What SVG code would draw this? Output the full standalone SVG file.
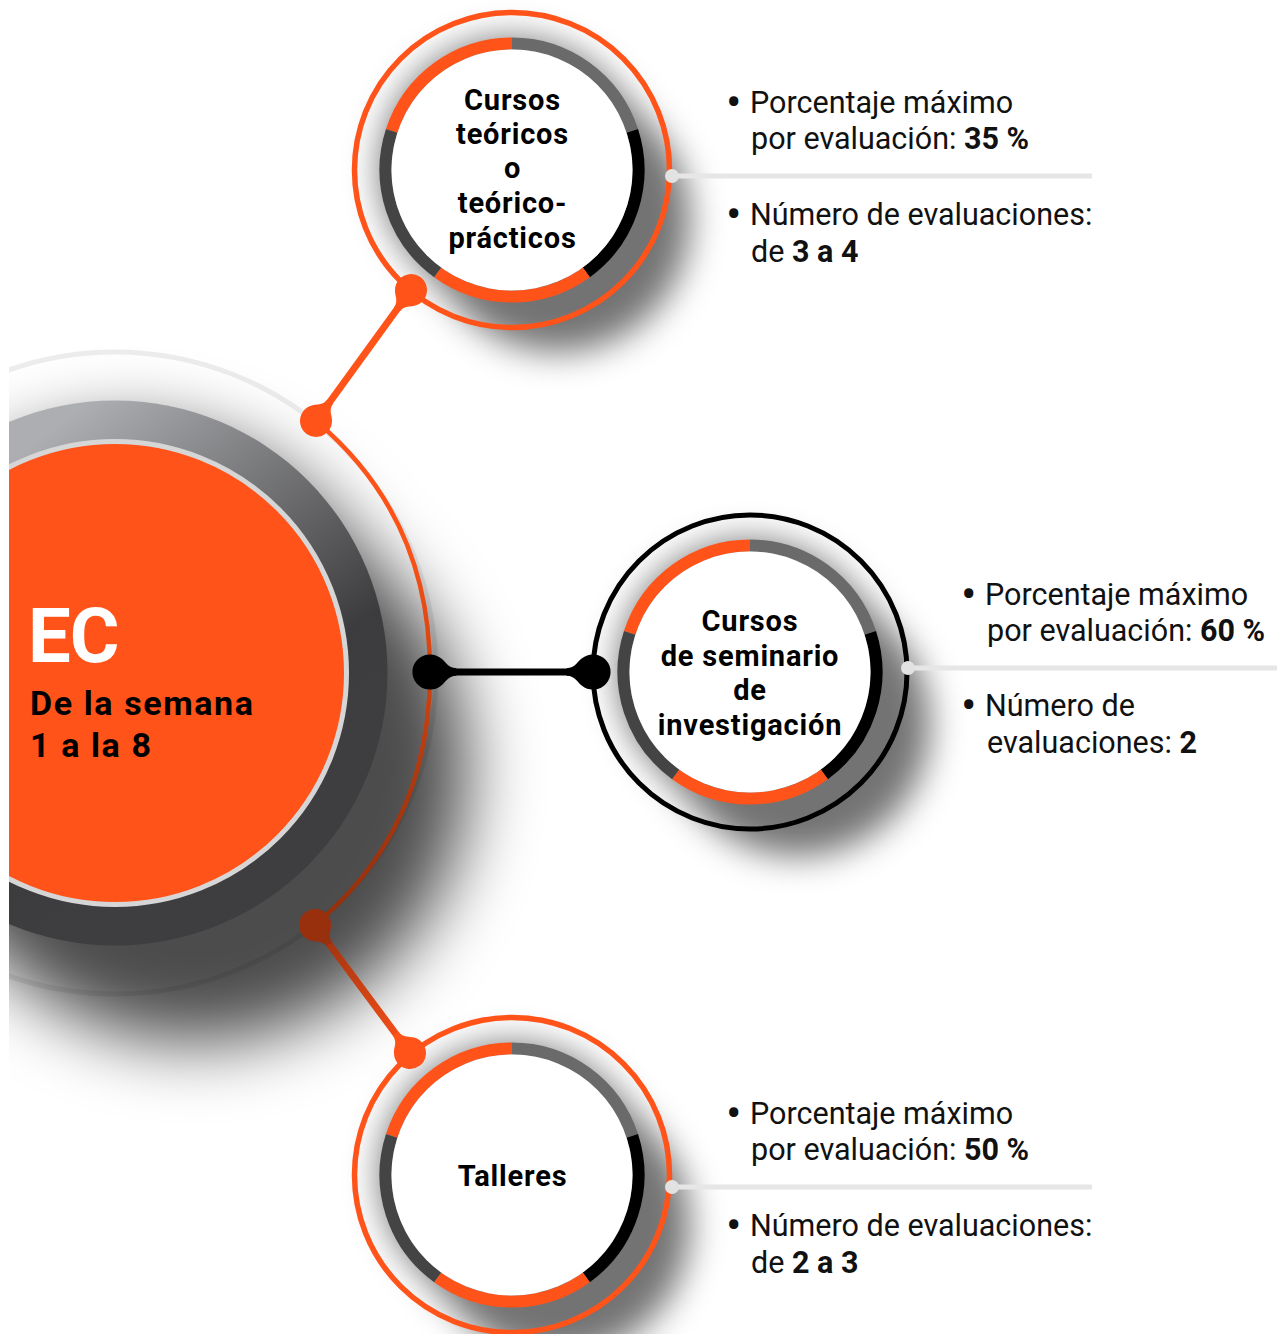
<svg xmlns="http://www.w3.org/2000/svg" width="1287" height="1334" viewBox="0 0 1287 1334">
<defs>
<style>
.nt{font-family:Roboto,"Liberation Sans",sans-serif;font-weight:700;font-size:29px;letter-spacing:0.8px;text-anchor:middle;fill:#000;}
.info{font-family:Roboto,"Liberation Sans",sans-serif;font-size:30.5px;fill:#111;}
.bl{font-size:46px;}
.b{font-weight:700;}
.big{font-family:Roboto,"Liberation Sans",sans-serif;font-weight:700;}
.sep{stroke:#e6e6e6;stroke-width:5;}
.sepdot{fill:#e2e2e2;}
.seg{fill:none;stroke-width:12;}
.shadow{stroke:#000;stroke-linecap:round;fill:none;}
</style>
<filter id="blurS" filterUnits="userSpaceOnUse" x="0" y="0" width="1287" height="1334"><feGaussianBlur stdDeviation="17"/></filter>
<filter id="blurL" filterUnits="userSpaceOnUse" x="0" y="0" width="1287" height="1334"><feGaussianBlur stdDeviation="35"/></filter>
<clipPath id="clipL"><rect x="9" y="0" width="1278" height="1334"/></clipPath>
<linearGradient id="darkG" gradientUnits="userSpaceOnUse" x1="90" y1="400" x2="330" y2="720">
<stop offset="0" stop-color="#adaeb1"/><stop offset="0.85" stop-color="#3c3c3e"/><stop offset="1" stop-color="#3e3e40"/>
</linearGradient>
<linearGradient id="arcG" gradientUnits="userSpaceOnUse" x1="0" y1="421" x2="0" y2="925">
<stop offset="0" stop-color="#ff5319"/><stop offset="0.25" stop-color="#fb5218"/><stop offset="0.5" stop-color="#cf4412"/><stop offset="0.75" stop-color="#a7370f"/><stop offset="1" stop-color="#93300d"/>
</linearGradient>
<linearGradient id="botG" gradientUnits="userSpaceOnUse" x1="315" y1="925" x2="410" y2="1053">
<stop offset="0" stop-color="#96300e"/><stop offset="1" stop-color="#ff5319"/>
</linearGradient>
<g id="ring">
<path class="seg" stroke="#ff5319" d="M-120.31,-39.09 A126.5,126.5 0 0 1 0,-126.5"/>
<path class="seg" stroke="#6a6a6a" d="M0,-126.5 A126.5,126.5 0 0 1 120.31,-39.09"/>
<path class="seg" stroke="#000" d="M120.31,-39.09 A126.5,126.5 0 0 1 74.36,102.34"/>
<path class="seg" stroke="#ff5319" d="M74.36,102.34 A126.5,126.5 0 0 1 -74.36,102.34"/>
<path class="seg" stroke="#444" d="M-74.36,102.34 A126.5,126.5 0 0 1 -120.31,-39.09"/>
<circle r="120.5" fill="#fff"/>
</g>
<path id="pin" d="M24,-3.5 C16,-3.5 14,-10 10,-12.5 A16,16 0 1 0 10,12.5 C14,10 16,3.5 24,3.5 Z"/>
</defs>
<rect width="1287" height="1334" fill="#fff"/>

<g id="node-ec" clip-path="url(#clipL)">
<line class="shadow" x1="130" y1="700" x2="195" y2="770" stroke-width="545" stroke-opacity="0.7" filter="url(#blurL)"/>
<circle cx="115" cy="673" r="321" fill="none" stroke="#000" stroke-opacity="0.07" stroke-width="5"/>
<circle cx="115" cy="673" r="272.5" fill="url(#darkG)"/>
<circle cx="115" cy="673" r="231.5" fill="#ff5319" stroke="#d6d6d6" stroke-width="5"/>
<text class="big" x="28" y="662" font-size="76" fill="#fff" letter-spacing="-1">EC</text>
<text class="big" x="30" y="715" font-size="34" fill="#000" letter-spacing="1.6">De la semana</text>
<text class="big" x="30" y="757" font-size="34" fill="#000" letter-spacing="1.6">1 a la 8</text>
</g>

<g id="node-cursos-teoricos">
<line class="shadow" x1="512" y1="170" x2="558" y2="220" stroke-width="264" stroke-opacity="0.55" filter="url(#blurS)"/>
<circle cx="512" cy="170" r="157.5" fill="none" stroke="#ff5319" stroke-width="5.5"/>
<use href="#ring" x="512" y="170"/>
<text class="nt" x="512.5" y="110">Cursos</text>
<text class="nt" x="512.5" y="144">teóricos</text>
<text class="nt" x="512.5" y="178">o</text>
<text class="nt" x="512.5" y="213">teórico-</text>
<text class="nt" x="512.5" y="248">prácticos</text>
</g>

<g id="node-seminario">
<line class="shadow" x1="750" y1="672" x2="798" y2="724" stroke-width="264" stroke-opacity="0.55" filter="url(#blurS)"/>
<circle cx="750" cy="672" r="157" fill="none" stroke="#000" stroke-width="5"/>
<use href="#ring" x="750" y="672"/>
<text class="nt" x="750" y="631">Cursos</text>
<text class="nt" x="750" y="666">de seminario</text>
<text class="nt" x="750" y="700">de</text>
<text class="nt" x="750" y="735">investigación</text>
</g>

<g id="node-talleres">
<line class="shadow" x1="512" y1="1175" x2="558" y2="1225" stroke-width="264" stroke-opacity="0.55" filter="url(#blurS)"/>
<circle cx="512" cy="1175" r="157.5" fill="none" stroke="#ff5319" stroke-width="5.5"/>
<use href="#ring" x="512" y="1175"/>
<text class="nt" x="512.5" y="1186">Talleres</text>
</g>

<g id="connectors">
<path d="M316,421 C385,479 430,560 430,672 C430,785 385,866 316,924" fill="none" stroke="url(#arcG)" stroke-width="4.5"/>
<line x1="316" y1="421" x2="411" y2="290" stroke="#ff5319" stroke-width="7"/>
<use href="#pin" fill="#ff5319" transform="translate(316,421) rotate(-54)"/>
<use href="#pin" fill="#ff5319" transform="translate(411,290) rotate(126)"/>
<line x1="430" y1="672" x2="593" y2="672" stroke="#000" stroke-width="7"/>
<use href="#pin" fill="#000" transform="translate(430,672) scale(1.1)"/>
<use href="#pin" fill="#000" transform="translate(593,672) rotate(180) scale(1.1)"/>
<line x1="315" y1="925" x2="410" y2="1053" stroke="url(#botG)" stroke-width="7"/>
<use href="#pin" fill="#98300e" transform="translate(315,925) rotate(53.4)"/>
<use href="#pin" fill="#ff5319" transform="translate(410,1053) rotate(233.4)"/>
</g>

<g id="info-top">
<line class="sep" x1="672" y1="176" x2="1092" y2="176"/>
<circle class="sepdot" cx="672" cy="176" r="7"/>
<text class="info" y="113"><tspan class="bl" x="726" dy="5">•</tspan><tspan x="750" dy="-5">Porcentaje máximo</tspan></text>
<text class="info" x="751" y="149">por evaluación: <tspan class="b">35 %</tspan></text>
<text class="info" y="225"><tspan class="bl" x="726" dy="5">•</tspan><tspan x="750" dy="-5">Número de evaluaciones:</tspan></text>
<text class="info" x="751" y="262">de <tspan class="b">3 a 4</tspan></text>
</g>

<g id="info-mid">
<rect x="970" y="671" width="317" height="200" fill="#fff"/>
<line class="sep" x1="908" y1="668" x2="1277" y2="668"/>
<circle class="sepdot" cx="908" cy="668" r="7"/>
<text class="info" y="605"><tspan class="bl" x="961" dy="5">•</tspan><tspan x="985" dy="-5">Porcentaje máximo</tspan></text>
<text class="info" x="987" y="641">por evaluación: <tspan class="b">60 %</tspan></text>
<text class="info" y="716"><tspan class="bl" x="961" dy="5">•</tspan><tspan x="985" dy="-5">Número de</tspan></text>
<text class="info" x="987" y="753">evaluaciones: <tspan class="b">2</tspan></text>
</g>

<g id="info-bottom">
<line class="sep" x1="672" y1="1187" x2="1092" y2="1187"/>
<circle class="sepdot" cx="672" cy="1187" r="7"/>
<text class="info" y="1124"><tspan class="bl" x="726" dy="5">•</tspan><tspan x="750" dy="-5">Porcentaje máximo</tspan></text>
<text class="info" x="751" y="1160">por evaluación: <tspan class="b">50 %</tspan></text>
<text class="info" y="1236"><tspan class="bl" x="726" dy="5">•</tspan><tspan x="750" dy="-5">Número de evaluaciones:</tspan></text>
<text class="info" x="751" y="1273">de <tspan class="b">2 a 3</tspan></text>
</g>
</svg>
